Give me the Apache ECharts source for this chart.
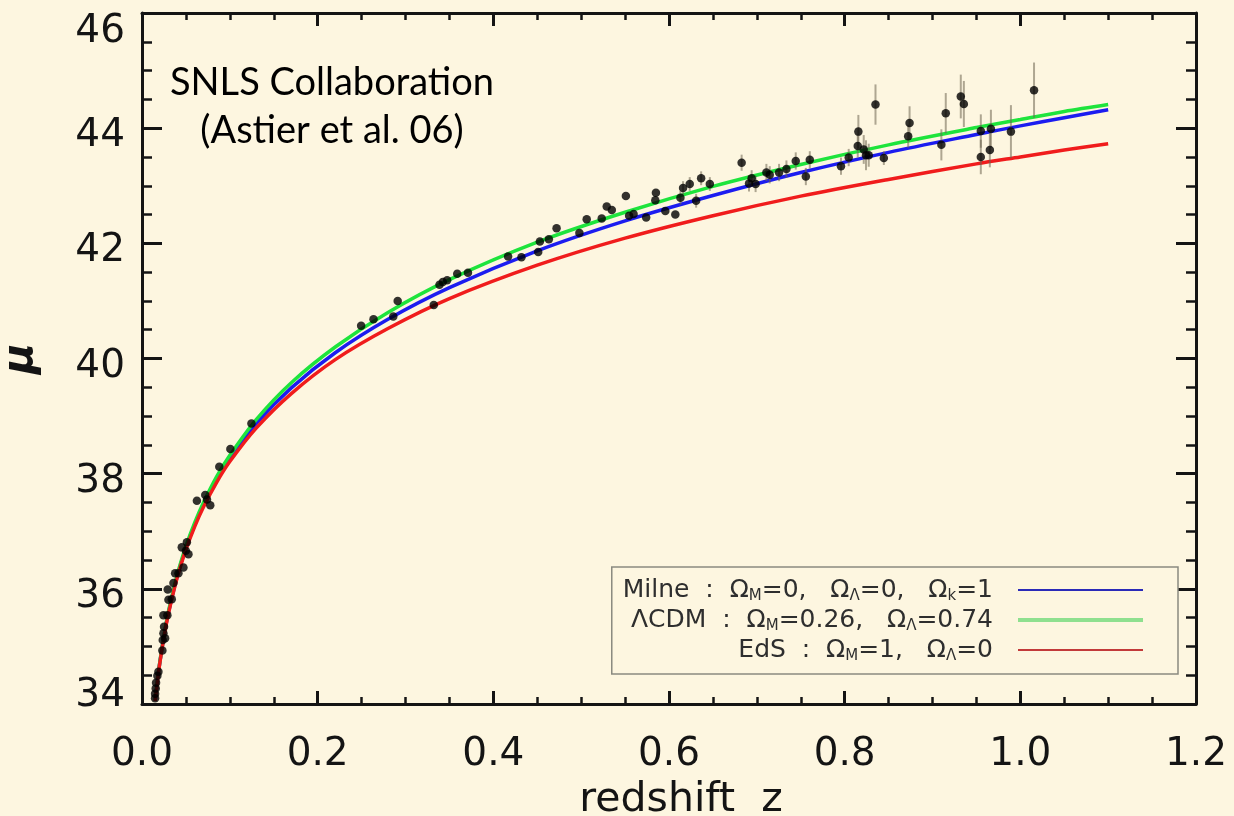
<!DOCTYPE html>
<html>
<head>
<meta charset="utf-8">
<script src="https://cdn.jsdelivr.net/npm/echarts@6/dist/echarts.min.js"></script>
<style>
  html, body { margin: 0; padding: 0; background: #fdf6e0; }
  #chart { width: 1234px; height: 816px; }
</style>
</head>
<body>
<div id="chart"></div>
<script>
// Hubble diagram: distance modulus versus redshift, SNLS first-year sample

// model curves, sampled in redshift
const modelZ  = [0.015, 0.0175, 0.02, 0.025, 0.03, 0.04, 0.05, 0.06, 0.07, 0.085, 0.1, 0.13, 0.17, 0.22, 0.28, 0.35, 0.45, 0.55, 0.65, 0.75, 0.85, 0.95, 1.0, 1.05, 1.1];
const milneMu = [34.06, 34.39, 34.69, 35.18, 35.58, 36.21, 36.71, 37.11, 37.46, 37.90, 38.26, 38.87, 39.49, 40.10, 40.68, 41.23, 41.87, 42.39, 42.83, 43.23, 43.58, 43.89, 44.04, 44.18, 44.32];
const lcdmMu  = [34.07, 34.40, 34.70, 35.19, 35.60, 36.24, 36.74, 37.15, 37.50, 37.95, 38.32, 38.94, 39.58, 40.20, 40.80, 41.37, 42.02, 42.54, 42.99, 43.37, 43.71, 44.01, 44.15, 44.29, 44.41];
const edsMu   = [34.05, 34.38, 34.68, 35.16, 35.56, 36.19, 36.68, 37.08, 37.42, 37.85, 38.21, 38.79, 39.39, 39.98, 40.52, 41.04, 41.62, 42.09, 42.48, 42.82, 43.11, 43.38, 43.50, 43.62, 43.73];

// supernovae: redshift, distance modulus, 1-sigma error (0 = bar hidden under the dot)
const snZ = [
  0.0149, 0.0149, 0.0156, 0.0160, 0.0175, 0.0187, 0.0232, 0.0236, 0.0263, 0.0244,
  0.0251, 0.0244, 0.0289, 0.0301, 0.0339, 0.0293, 0.0358, 0.0377, 0.0415, 0.0472,
  0.0453, 0.0511, 0.0529, 0.0499, 0.0625, 0.0720, 0.0740, 0.0777, 0.0880, 0.1006,
  0.1246, 0.2495, 0.2636, 0.2861, 0.2911, 0.3322, 0.3387, 0.3425, 0.3474, 0.3589,
  0.3711, 0.4168, 0.4320, 0.4511, 0.4530, 0.4632, 0.4720, 0.4980, 0.5063, 0.5234,
  0.5291, 0.5349, 0.5509, 0.5546, 0.5597, 0.5740, 0.5851, 0.5844, 0.5958, 0.6072,
  0.6130, 0.6160, 0.6236, 0.6309, 0.6366, 0.6465, 0.6827, 0.6941, 0.6986, 0.6911,
  0.7109, 0.7147, 0.7253, 0.7337, 0.7443, 0.7558, 0.7603, 0.7958, 0.8046, 0.8156,
  0.8149, 0.8217, 0.8243, 0.8274, 0.8351, 0.8446, 0.8723, 0.8739, 0.9101, 0.9151,
  0.9322, 0.9357, 0.9550, 0.9550, 0.9653, 0.9665, 0.9893, 1.0156
];
const snMu = [
  34.10, 34.18, 34.27, 34.37, 34.49, 34.56, 34.93, 35.11, 35.14, 35.23,
  35.34, 35.54, 35.54, 35.81, 35.82, 35.99, 36.10, 36.27, 36.27, 36.37,
  36.72, 36.81, 36.60, 36.66, 37.53, 37.63, 37.55, 37.45, 38.12, 38.43,
  38.87, 40.57, 40.68, 40.73, 41.00, 40.93, 41.28, 41.33, 41.36, 41.47,
  41.49, 41.77, 41.76, 41.85, 42.03, 42.07, 42.26, 42.18, 42.42, 42.43,
  42.64, 42.58, 42.82, 42.48, 42.51, 42.45, 42.88, 42.75, 42.56, 42.50,
  42.79, 42.96, 43.03, 42.74, 43.13, 43.03, 43.40, 43.13, 43.03, 43.04,
  43.23, 43.19, 43.23, 43.29, 43.43, 43.16, 43.45, 43.34, 43.49, 43.94,
  43.69, 43.63, 43.53, 43.53, 44.41, 43.48, 43.86, 44.09, 43.71, 44.26,
  44.55, 44.42, 43.50, 43.95, 43.62, 43.99, 43.94, 44.66
];
const snErr = [
  0, 0, 0, 0, 0, 0, 0, 0, 0, 0,
  0, 0, 0, 0, 0, 0, 0, 0, 0, 0,
  0, 0, 0, 0, 0, 0, 0, 0, 0, 0,
  0, 0, 0, 0, 0, 0, 0, 0, 0, 0,
  0, 0, 0, 0, 0, 0, 0, 0, 0, 0,
  0, 0, 0, 0, 0, 0, 0, 0, 0, 0,
  0.12, 0.12, 0.12, 0.12, 0.12, 0.12, 0.14, 0.14, 0.14, 0.14,
  0.15, 0.15, 0.15, 0.15, 0.15, 0.15, 0.15, 0.15, 0.15, 0.29,
  0.20, 0.25, 0.26, 0.20, 0.35, 0.12, 0.20, 0.29, 0.27, 0.35,
  0.38, 0.40, 0.30, 0.29, 0.30, 0.33, 0.46, 0.48
];

const xTickLabels = ['0.0', '0.2', '0.4', '0.6', '0.8', '1.0', '1.2'];
const modelNames = ['Milne', 'ΛCDM', 'EdS'];
const legendLabels = {
  'Milne': 'Milne  :  Ω{s|M}=0,   Ω{s|Λ}=0,   Ω{s|k}=1{g| }',
  'ΛCDM': 'ΛCDM  :  Ω{s|M}=0.26,   Ω{s|Λ}=0.74{g| }',
  'EdS': 'EdS  :  Ω{s|M}=1,   Ω{s|Λ}=0{g| }'
};

const INK = '#141414';
const BG = '#fdf6e0';
const TICK_FONT = 'DejaVu Sans';

function pairs(xs, ys) { return xs.map((x, i) => [x, ys[i]]); }

const baseX = {
  type: 'value', min: 0, max: 1.2, interval: 0.2,
  axisLine: { show: true, onZero: false, lineStyle: { color: INK, width: 3 } },
  axisTick: { show: true, inside: true, length: 13, lineStyle: { color: INK, width: 3 } },
  minorTick: { show: true, splitNumber: 4, length: 7, lineStyle: { color: INK, width: 2.5 } },
  splitLine: { show: false },
  minorSplitLine: { show: false }
};
const baseY = {
  type: 'value', min: 34, max: 46, interval: 2,
  axisLine: { show: true, onZero: false, lineStyle: { color: INK, width: 3 } },
  axisTick: { show: true, inside: true, length: 20, lineStyle: { color: INK, width: 3 } },
  minorTick: { show: true, splitNumber: 4, length: 10, lineStyle: { color: INK, width: 2.5 } },
  splitLine: { show: false },
  minorSplitLine: { show: false }
};

const chart = echarts.init(document.getElementById('chart'), null, { renderer: 'canvas' });

chart.setOption({
  animation: false,
  backgroundColor: BG,
  grid: { left: 142, top: 13, width: 1054, height: 691, containLabel: false, outerBoundsMode: 'none' },
  xAxis: [
    Object.assign({}, baseX, {
      position: 'bottom',
      axisLabel: {
        show: true, margin: 31, color: INK, fontFamily: TICK_FONT, fontSize: 39,
        formatter: (v) => xTickLabels[Math.round(v / 0.2)]
      },
      name: 'redshift  z',
      nameLocation: 'middle',
      nameGap: 76,
      nameTextStyle: { color: INK, fontFamily: TICK_FONT, fontSize: 41, padding: [0, 0, 0, 24] }
    }),
    Object.assign({}, baseX, { position: 'top', axisLabel: { show: false } })
  ],
  yAxis: [
    Object.assign({}, baseY, {
      position: 'left',
      axisLabel: {
        show: true, margin: 17, color: INK, fontFamily: TICK_FONT, fontSize: 39,
        formatter: (v) => v === 46 ? '{t|46}' : v === 34 ? '{b|34}' : '{m|' + v + '}',
        rich: {
          t: { fontFamily: TICK_FONT, fontSize: 39, color: INK, padding: [38, 0, 0, 0] },
          b: { fontFamily: TICK_FONT, fontSize: 39, color: INK, padding: [0, 0, 16, 0] },
          m: { fontFamily: TICK_FONT, fontSize: 39, color: INK, padding: [16, 0, 0, 0] }
        }
      },
      name: 'μ',
      nameLocation: 'middle',
      nameGap: 100,
      nameTextStyle: { color: INK, fontFamily: TICK_FONT, fontSize: 42, fontStyle: 'italic', fontWeight: 'bold' }
    }),
    Object.assign({}, baseY, { position: 'right', axisLabel: { show: false } })
  ],
  legend: {
    orient: 'vertical',
    right: 56,
    top: 567,
    align: 'right',
    itemWidth: 125,
    itemHeight: 12,
    itemGap: 2,
    padding: [9, 33, 10, 11],
    borderColor: '#8a8a80',
    borderWidth: 1.5,
    borderRadius: 0,
    backgroundColor: BG,
    selectedMode: false,
    data: [
      { name: 'Milne', itemStyle: { opacity: 0 }, lineStyle: { color: '#2a2ab8', width: 2 } },
      { name: 'ΛCDM', itemStyle: { opacity: 0 }, lineStyle: { color: '#8fe08f', width: 4 } },
      { name: 'EdS', itemStyle: { opacity: 0 }, lineStyle: { color: '#c23a3a', width: 2 } }
    ],
    formatter: (name) => legendLabels[name],
    textStyle: {
      fontFamily: TICK_FONT, fontSize: 25, color: '#2e2e2e', lineHeight: 28,
      rich: {
        s: { fontFamily: TICK_FONT, fontSize: 15, color: '#2e2e2e', verticalAlign: 'bottom' },
        g: { fontFamily: TICK_FONT, fontSize: 25, width: 20 }
      }
    }
  },
  graphic: [
    {
      type: 'text', silent: true, z: 10,
      style: {
        text: 'SNLS Collaboration', x: 332, y: 83,
        align: 'center', verticalAlign: 'middle', textAlign: 'center', textVerticalAlign: 'middle',
        font: '38px Lato', fill: '#000'
      }
    },
    {
      type: 'text', silent: true, z: 10,
      style: {
        text: '(Astier et al. 06)', x: 332, y: 131,
        align: 'center', verticalAlign: 'middle', textAlign: 'center', textVerticalAlign: 'middle',
        font: '38px Lato', fill: '#000'
      }
    }
  ],
  series: [
    {
      name: modelNames[0], type: 'line', data: pairs(modelZ, milneMu),
      smooth: 0.3, symbol: 'none', z: 2,
      lineStyle: { color: '#1c1cf0', width: 3.5 }
    },
    {
      name: modelNames[1], type: 'line', data: pairs(modelZ, lcdmMu),
      smooth: 0.3, symbol: 'none', z: 2,
      lineStyle: { color: '#1ee43c', width: 3.5 }
    },
    {
      name: modelNames[2], type: 'line', data: pairs(modelZ, edsMu),
      smooth: 0.3, symbol: 'none', z: 2,
      lineStyle: { color: '#f01c1c', width: 3.5 }
    },
    {
      name: 'errors', type: 'custom', z: 3,
      data: snZ.map((z, i) => [z, snMu[i] - snErr[i], snMu[i] + snErr[i]]).filter((d, i) => snErr[i] > 0),
      encode: { x: 0, y: [1, 2] },
      renderItem: (params, api) => {
        const p1 = api.coord([api.value(0), api.value(1)]);
        const p2 = api.coord([api.value(0), api.value(2)]);
        return {
          type: 'line',
          shape: { x1: p1[0], y1: p1[1], x2: p2[0], y2: p2[1] },
          style: { stroke: 'rgba(110,100,80,0.55)', lineWidth: 2 }
        };
      }
    },
    {
      name: 'SNe', type: 'scatter', z: 4,
      data: pairs(snZ, snMu),
      symbol: 'circle', symbolSize: 8.5,
      itemStyle: { color: '#000' }
    }
  ]
});
</script>
</body>
</html>
